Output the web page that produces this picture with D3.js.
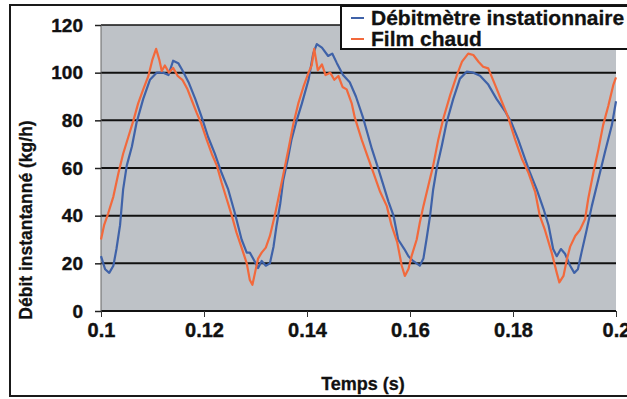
<!DOCTYPE html>
<html><head><meta charset="utf-8">
<script src="https://cdn.jsdelivr.net/npm/d3@7"></script>
<style>
body{margin:0;background:#fff}
svg{display:block}
text{font-family:"Liberation Sans",Arial,sans-serif;font-weight:bold;fill:#111}
</style>
</head><body><svg id="c" width="627" height="399"></svg>
<script>
// Débitmètre instationnaire (blue)
const timeDebit=[0.1000,0.1008,0.1016,0.1024,0.1030,0.1037,0.1043,0.1050,0.1060,0.1069,0.1082,0.1095,0.1108,0.1121,0.1131,0.1140,0.1150,0.1158,0.1170,0.1183,0.1196,0.1208,0.1221,0.1234,0.1247,0.1260,0.1273,0.1283,0.1289,0.1298,0.1305,0.1312,0.1320,0.1328,0.1335,0.1341,0.1348,0.1354,0.1363,0.1370,0.1380,0.1390,0.1403,0.1412,0.1419,0.1429,0.1441,0.1449,0.1458,0.1470,0.1483,0.1495,0.1509,0.1526,0.1538,0.1548,0.1558,0.1568,0.1577,0.1589,0.1597,0.1606,0.1619,0.1626,0.1632,0.1639,0.1645,0.1652,0.1662,0.1671,0.1684,0.1697,0.1710,0.1723,0.1736,0.1752,0.1768,0.1784,0.1797,0.1810,0.1823,0.1833,0.1846,0.1859,0.1869,0.1878,0.1885,0.1893,0.1901,0.1911,0.1919,0.1926,0.1933,0.1943,0.1953,0.1966,0.1979,0.1992,0.2000];
const valDebit=[23,17.5,16,19,26,36,51,61,69,79,89,97,100,100,99,105,104,101,96,89,81,73,66,58,51,41,30,24.5,24.5,21,18,21,19,20,27,36,45,55,64,72,80,87,97,108,112,110.5,107,108,104,99,96,90,81,68,60,53,46,40,30,26,23,21,19,22,30,40,51,60,69.5,79,89,97.5,100.4,100,98.7,95,89,84,79,72,64,58,51,43,36,26,23,26,24,19,16,17.5,24.5,34,44,55.5,67,78,88];
// Film chaud (orange)
const timeFilm=[0.1000,0.1006,0.1014,0.1024,0.1034,0.1043,0.1053,0.1063,0.1072,0.1082,0.1092,0.1100,0.1107,0.1113,0.1118,0.1124,0.1132,0.1140,0.1149,0.1158,0.1168,0.1177,0.1186,0.1194,0.1205,0.1215,0.1225,0.1234,0.1244,0.1254,0.1263,0.1273,0.1283,0.1289,0.1294,0.1299,0.1305,0.1312,0.1320,0.1328,0.1338,0.1348,0.1356,0.1365,0.1373,0.1383,0.1393,0.1403,0.1409,0.1414,0.1421,0.1429,0.1436,0.1445,0.1453,0.1461,0.1469,0.1477,0.1487,0.1493,0.1506,0.1519,0.1529,0.1542,0.1555,0.1564,0.1575,0.1584,0.1590,0.1597,0.1603,0.1613,0.1619,0.1626,0.1636,0.1645,0.1655,0.1665,0.1678,0.1691,0.1701,0.1713,0.1723,0.1733,0.1742,0.1752,0.1765,0.1778,0.1791,0.1804,0.1817,0.1830,0.1843,0.1852,0.1862,0.1875,0.1885,0.1890,0.1898,0.1905,0.1911,0.1921,0.1930,0.1940,0.1946,0.1956,0.1966,0.1975,0.1985,0.1995,0.2000];
const valFilm=[30,36,41,48,58,66,73,80,87,93,98.6,105.6,110,105.6,100.7,103,100,102,98.6,97,93,88,83,79,72,66,61,54,47,40,33,26.6,20,13,11,16,22,24.5,26.6,31.5,40.6,51,59.4,69,78,87,94,100,103,110,101,103.5,99,100,97,98.6,94,93,87,81,72,64,58,50,44,36,29,19,14.7,17.6,23,30,37,44,53,61,72,81,90.6,99,104.6,108,107.4,104.6,102.5,101.8,95,88,81,72,64,58,50,40,34,24.6,16,12,14.7,22,27,31.6,34,38.6,47,58,68,78,86,95,98];
const seriesNames=["Débitmètre instationnaire","Film chaud"];
const seriesColors=["#3f62a8","#f2693c"];
const yTicks=[0,20,40,60,80,100,120];
const xTicks=[0.1,0.12,0.14,0.16,0.18,0.2];
const xTickLabels=["0.1","0.12","0.14","0.16","0.18","0.2"];
const xTitle="Temps (s)";
const yTitle="Débit instantanné (kg/h)";

const svg=d3.select("#c");
const x=d3.scaleLinear().domain([0.1,0.2]).range([101,616]);
const y=d3.scaleLinear().domain([0,120]).range([311,25]);
const FONT="'Liberation Sans',Arial,sans-serif";

// outer frame
svg.append("rect").attr("x",10).attr("y",5).attr("width",630).attr("height",391)
  .attr("fill","#fff").attr("stroke","#1a1a1a").attr("stroke-width",2);

// plot background
svg.append("rect").attr("x",x(0.1)).attr("y",y(120)).attr("width",x(0.2)-x(0.1)).attr("height",y(0)-y(120))
  .attr("fill","#bec2c7");

// grid lines
svg.append("g").selectAll("line").data(yTicks).join("line")
  .attr("x1",x(0.1)).attr("x2",x(0.2)).attr("y1",d=>y(d)).attr("y2",d=>y(d))
  .attr("stroke","#111").attr("stroke-width",d=>d===120?1.5:2);
svg.append("line").attr("x1",x(0.1)).attr("x2",x(0.1)).attr("y1",y(0)).attr("y2",y(120))
  .attr("stroke","#666").attr("stroke-width",1);

// y axis
const yAxis=d3.axisLeft(y).tickValues(yTicks).tickSize(6).tickPadding(12);
const gy=svg.append("g").attr("transform",`translate(${x(0.1)},0)`).call(yAxis);
gy.select(".domain").remove();
gy.selectAll("line").attr("stroke","#222").attr("stroke-width",1.5);
gy.selectAll("text").attr("font-size",19).attr("font-family",FONT).attr("font-weight","bold")
  .attr("fill","#111").attr("stroke","#111").attr("stroke-width",0.4);

// x axis
const xAxis=d3.axisBottom(x).tickValues(xTicks).tickFormat((d,i)=>xTickLabels[i]).tickSize(6).tickPadding(6);
const gx=svg.append("g").attr("transform",`translate(0,${y(0)})`).call(xAxis);
gx.select(".domain").remove();
gx.selectAll("line").attr("stroke","#333").attr("stroke-width",1);
gx.selectAll("text").attr("font-size",20).attr("font-family",FONT).attr("font-weight","bold")
  .attr("fill","#111").attr("stroke","#111").attr("stroke-width",0.4);

// titles
svg.append("text").attr("x",363).attr("y",390).attr("text-anchor","middle").attr("font-size",18)
  .attr("stroke","#111").attr("stroke-width",0.3).text(xTitle);
svg.append("text").attr("transform","translate(32,220) rotate(-90)").attr("text-anchor","middle").attr("font-size",17.5)
  .attr("stroke","#111").attr("stroke-width",0.3).text(yTitle);

// lines
const series=[{t:timeDebit,v:valDebit},{t:timeFilm,v:valFilm}];
const line=d3.line().x(d=>x(d[0])).y(d=>y(d[1])).curve(d3.curveLinear);
series.forEach((s,i)=>{
  const pts=s.t.map((t,j)=>[t,s.v[j]]);
  svg.append("path").datum(pts).attr("d",line).attr("fill","none")
    .attr("stroke",seriesColors[i]).attr("stroke-width",2.2).attr("stroke-linejoin","round");
});

// legend
const lg=svg.append("g");
lg.append("rect").attr("x",341).attr("y",6).attr("width",300).attr("height",43)
  .attr("fill","#fff").attr("stroke","#111").attr("stroke-width",2);
seriesNames.forEach((n,i)=>{
  const base=25+i*21;
  const cy=base-7;
  lg.append("line").attr("x1",351).attr("x2",364).attr("y1",cy).attr("y2",cy)
    .attr("stroke",seriesColors[i]).attr("stroke-width",2);
  lg.append("text").attr("x",371).attr("y",base).attr("font-size",21)
    .attr("stroke","#111").attr("stroke-width",0.3).text(n);
});
</script>
</body></html>
